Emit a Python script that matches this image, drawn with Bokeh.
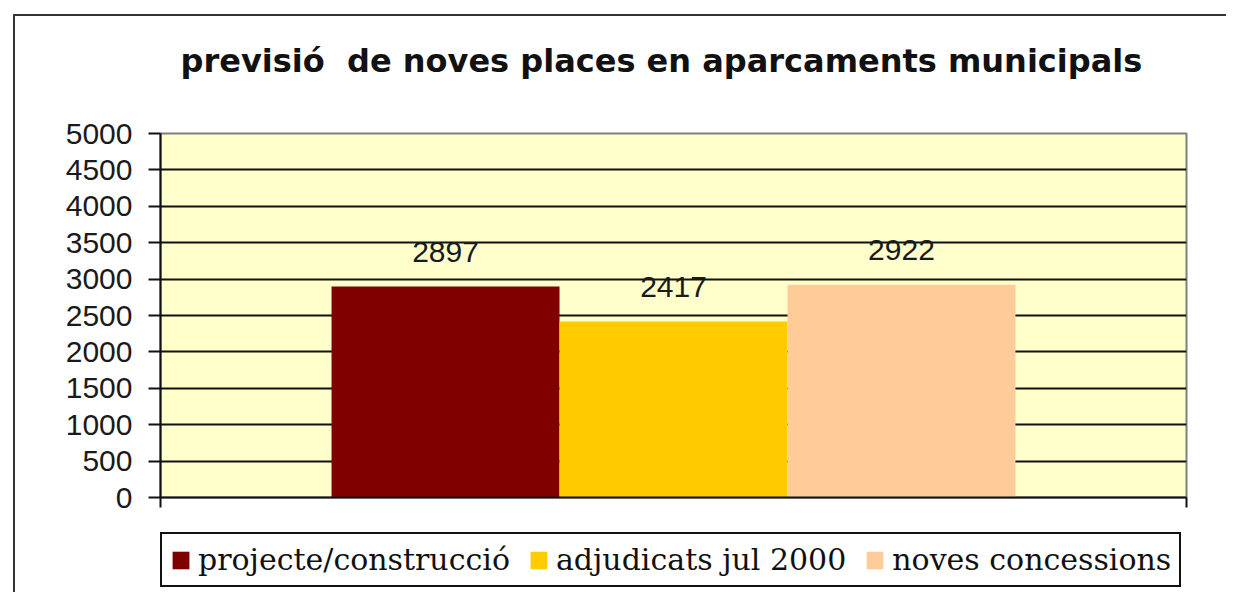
from bokeh.plotting import figure
from bokeh.layouts import column
from bokeh.models import (ColumnDataSource, Range1d, FixedTicker, Legend, LegendItem,
                          Label, InlineStyleSheet)
from bokeh.transform import dodge
from bokeh.core.properties import value
from bokeh.embed import file_html
from bokeh.resources import INLINE

# ---- data ----
title_text = "previsió\u00a0 de noves places en aparcaments municipals"
categories = ["places"]
series = ["projecte/construcció", "adjudicats jul 2000", "noves concessions"]
values = [2897, 2417, 2922]
colors = ["#800000", "#FFCC00", "#FFCC99"]
y_ticks = [0, 500, 1000, 1500, 2000, 2500, 3000, 3500, 4000, 4500, 5000]

W = 1226
FW = 1026
bar_w = 0.2222
offsets = [-bar_w, 0.0, bar_w]

# ---- title strip (frame is aligned with the chart frame by the column layout) ----
p0 = figure(width=W, height=100, output_backend="svg", toolbar_location=None,
            x_range=Range1d(0, FW), y_range=Range1d(0, 100), min_border=0)
p0.axis.visible = False
p0.grid.visible = False
p0.outline_line_color = None
p0.add_layout(Label(x=20, y=40, text=title_text, text_font="DejaVu Sans",
                    text_font_style="bold", text_font_size="32px", text_color="#111111",
                    text_baseline="alphabetic"))

# ---- chart ----
p = figure(frame_width=FW, frame_height=364, output_backend="svg", toolbar_location=None,
           x_range=Range1d(0, len(categories)), y_range=Range1d(y_ticks[0], y_ticks[-1]),
           min_border_left=160, min_border_right=40, min_border_top=33, min_border_bottom=30)

p.background_fill_color = "#FFFFCC"
p.border_fill_color = "white"
p.outline_line_color = "#808080"
p.outline_line_width = 2

ya = p.yaxis[0]
ya.ticker = FixedTicker(ticks=y_ticks)
ya.axis_line_color = "#111111"
ya.axis_line_width = 2
ya.major_tick_line_color = "#111111"
ya.major_tick_line_width = 2
ya.major_tick_out = 12
ya.major_tick_in = 0
ya.minor_tick_line_color = None
ya.major_label_standoff = 16
ya.major_label_text_font = "Liberation Sans"
ya.major_label_text_font_size = "30px"
ya.major_label_text_color = "#1a1a1a"

xa = p.xaxis[0]
xa.ticker = FixedTicker(ticks=list(range(len(categories) + 1)))
xa.axis_line_color = "#111111"
xa.axis_line_width = 2
xa.major_tick_line_color = "#111111"
xa.major_tick_line_width = 2
xa.major_tick_out = 10
xa.major_tick_in = 0
xa.minor_tick_line_color = None
xa.major_label_text_font_size = "0px"
xa.major_label_text_color = None
xa.major_label_standoff = 0

p.xgrid.visible = False
p.ygrid.ticker = FixedTicker(ticks=y_ticks[1:-1])
p.ygrid.grid_line_color = "#111111"
p.ygrid.grid_line_width = 2

for v, c, off in zip(values, colors, offsets):
    src = ColumnDataSource(dict(x=[i + 0.5 for i in range(len(categories))], top=[v],
                                lab=[str(v)]))
    p.vbar(x=dodge("x", off), top="top", bottom=0, width=bar_w, source=src,
           fill_color=c, line_color=None)
    p.text(x=dodge("x", off), y="top", text="lab", source=src, text_align="center",
           text_baseline="alphabetic", y_offset=-35, text_font=value("Liberation Sans"),
           text_font_size="30px", text_color="#1a1a1a")

# ---- legend strip ----
p2 = figure(width=W, height=65, output_backend="svg", toolbar_location=None,
            x_range=Range1d(0, FW), y_range=Range1d(0, 65), min_border=0)
p2.axis.visible = False
p2.grid.visible = False
p2.outline_line_color = None
items = []
for s, c in zip(series, colors):
    # zero-size proxy bar: only supplies the swatch style for the legend
    r = p2.vbar(x=[0], top=[0], bottom=[0], width=0, fill_color=c, line_color=None)
    items.append(LegendItem(label=s, renderers=[r]))

legend = Legend(items=items, orientation="horizontal", location=(0, 5),
                border_line_color="#111111", border_line_width=2, border_line_alpha=1,
                background_fill_color="white", background_fill_alpha=1,
                label_text_font="DejaVu Serif", label_text_font_size="30px",
                label_text_color="#111111",
                glyph_width=21, glyph_height=22, label_standoff=7, spacing=18,
                padding=8, margin=0)
p2.add_layout(legend, "center")

layout = column(p0, p, p2, spacing=0)
layout.stylesheets = [InlineStyleSheet(css=(
    ":host { position: relative; overflow: hidden; }"
    ":host::after { content: ''; position: absolute; left: 13px; top: 14px;"
    " width: 1400px; height: 800px; border: 2px solid #333333;"
    " box-sizing: border-box; pointer-events: none; z-index: 10; }"))]

open("out.html", "w").write(file_html(layout, INLINE))
